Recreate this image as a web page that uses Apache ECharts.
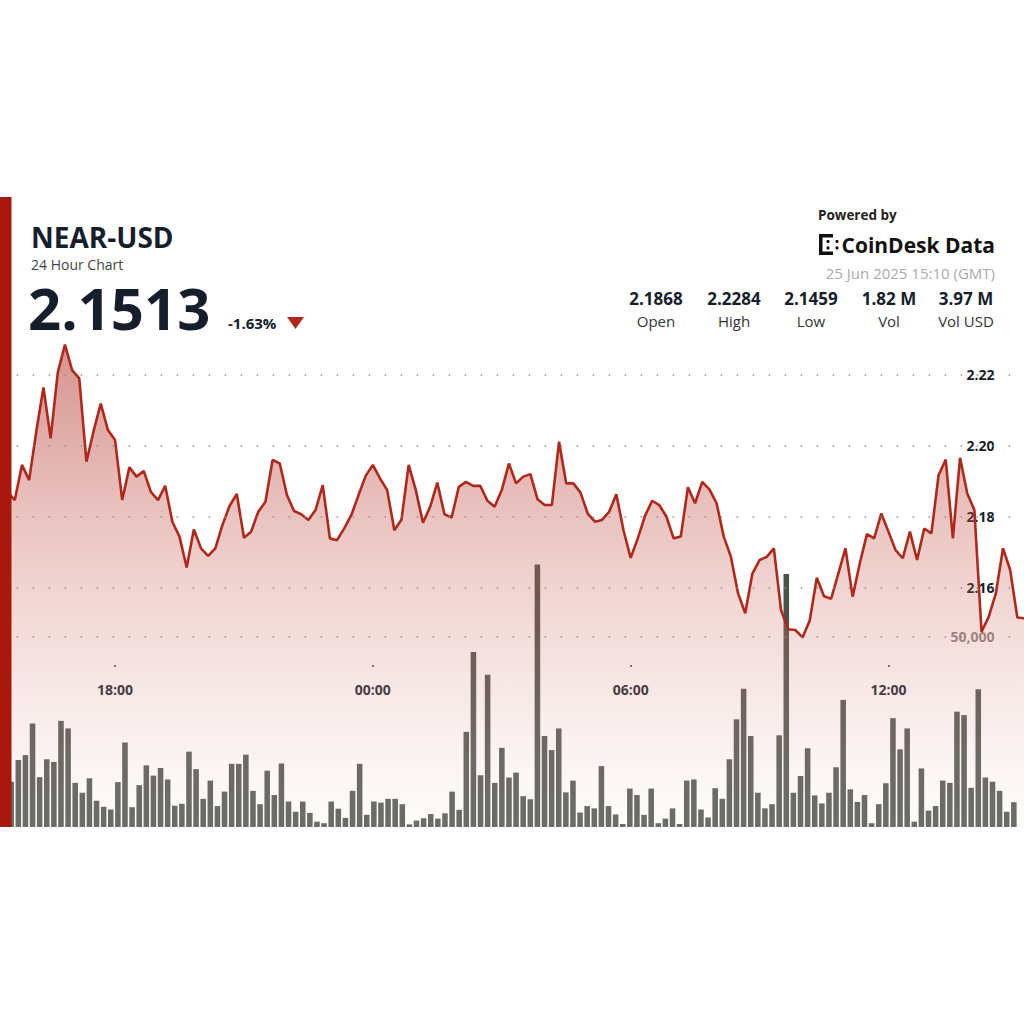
<!DOCTYPE html>
<html>
<head>
<meta charset="utf-8">
<title>NEAR-USD 24 Hour Chart</title>
<script src="https://cdn.jsdelivr.net/npm/echarts@6/dist/echarts.min.js"></script>
<style>
  html, body { margin: 0; padding: 0; background: #fff; }
  #chart { width: 1024px; height: 1024px; }
</style>
</head>
<body>
<div id="chart"></div>
<script>
// 10 minute steps, 24 Jun 15:30 -> 25 Jun 15:10 (GMT)
var times = [
  '15:30','15:40','15:50',
  '16:00','16:10','16:20','16:30','16:40','16:50',
  '17:00','17:10','17:20','17:30','17:40','17:50',
  '18:00','18:10','18:20','18:30','18:40','18:50',
  '19:00','19:10','19:20','19:30','19:40','19:50',
  '20:00','20:10','20:20','20:30','20:40','20:50',
  '21:00','21:10','21:20','21:30','21:40','21:50',
  '22:00','22:10','22:20','22:30','22:40','22:50',
  '23:00','23:10','23:20','23:30','23:40','23:50',
  '00:00','00:10','00:20','00:30','00:40','00:50',
  '01:00','01:10','01:20','01:30','01:40','01:50',
  '02:00','02:10','02:20','02:30','02:40','02:50',
  '03:00','03:10','03:20','03:30','03:40','03:50',
  '04:00','04:10','04:20','04:30','04:40','04:50',
  '05:00','05:10','05:20','05:30','05:40','05:50',
  '06:00','06:10','06:20','06:30','06:40','06:50',
  '07:00','07:10','07:20','07:30','07:40','07:50',
  '08:00','08:10','08:20','08:30','08:40','08:50',
  '09:00','09:10','09:20','09:30','09:40','09:50',
  '10:00','10:10','10:20','10:30','10:40','10:50',
  '11:00','11:10','11:20','11:30','11:40','11:50',
  '12:00','12:10','12:20','12:30','12:40','12:50',
  '13:00','13:10','13:20','13:30','13:40','13:50',
  '14:00','14:10','14:20','14:30','14:40','14:50',
  '15:00','15:10'
];

var prices = [
  2.1868, 2.1846, 2.1945, 2.1902, 2.2039, 2.2163, 2.2020, 2.2205, 2.2284, 2.2212,
  2.2189, 2.1954, 2.2040, 2.2118, 2.2043, 2.2015, 2.1846, 2.1938, 2.1912, 2.1928,
  2.1869, 2.1846, 2.1886, 2.1785, 2.1743, 2.1656, 2.1763, 2.1710, 2.1689, 2.1710,
  2.1776, 2.1830, 2.1863, 2.1740, 2.1757, 2.1813, 2.1841, 2.1959, 2.1949, 2.1860,
  2.1815, 2.1806, 2.1790, 2.1818, 2.1888, 2.1738, 2.1733, 2.1766, 2.1804, 2.1860,
  2.1914, 2.1945, 2.1907, 2.1874, 2.1761, 2.1791, 2.1945, 2.1874, 2.1782, 2.1827,
  2.1895, 2.1806, 2.1797, 2.1883, 2.1897, 2.1886, 2.1886, 2.1844, 2.1827, 2.1874,
  2.1949, 2.1893, 2.1912, 2.1919, 2.1848, 2.1832, 2.1832, 2.2010, 2.1893, 2.1893,
  2.1867, 2.1808, 2.1785, 2.1790, 2.1813, 2.1862, 2.1761, 2.1683, 2.1738, 2.1801,
  2.1844, 2.1832, 2.1799, 2.1738, 2.1743, 2.1882, 2.1837, 2.1897, 2.1876, 2.1837,
  2.1743, 2.1686, 2.1583, 2.1527, 2.1639, 2.1677, 2.1686, 2.1710, 2.1536, 2.1482,
  2.1480, 2.1459, 2.1506, 2.1627, 2.1575, 2.1568, 2.1639, 2.1710, 2.1574, 2.1668,
  2.1750, 2.1738, 2.1808, 2.1757, 2.1705, 2.1682, 2.1757, 2.1677, 2.1766, 2.1752,
  2.1916, 2.1960, 2.1738, 2.1965, 2.1865, 2.1818, 2.1475, 2.1517, 2.1583, 2.1710,
  2.1649, 2.1515, 2.1513
];

var volumes = [
  11900, 17600, 18900, 27200, 13100, 17800, 17100, 27900, 25900, 11600,
  9000, 12800, 6900, 5300, 4600, 11800, 22200, 5200, 11000, 16200,
  13500, 15500, 12500, 5600, 6100, 19800, 15200, 7400, 12200, 5500,
  9300, 16600, 16600, 19000, 9500, 6000, 14800, 8400, 16700, 6700,
  4000, 6700, 3700, 1400, 1000, 6700, 4800, 2400, 9500, 16600,
  3200, 6700, 6400, 7400, 7400, 6000, 700, 1700, 2300, 3400,
  2200, 3600, 9300, 4500, 25000, 46000, 13600, 40000, 11600, 20800,
  13000, 14300, 8100, 7300, 69000, 23900, 20200, 25900, 9100, 12200,
  3800, 5500, 4900, 16000, 5500, 3300, 800, 10100, 8400, 3200,
  10100, 1000, 2200, 4900, 800, 12200, 12500, 4600, 2500, 10200,
  7400, 17800, 28300, 36300, 23900, 9000, 4900, 6000, 24100, 66500,
  9000, 13400, 20700, 8300, 6200, 9000, 15700, 33400, 9900, 6600,
  8400, 1000, 6000, 11500, 28600, 20400, 25900, 1400, 15400, 4300,
  5500, 12200, 11600, 30300, 29400, 10300, 36200, 13000, 11900, 9500,
  4000, 6500, 0
];

var priceTicks = [2.16, 2.18, 2.20, 2.22];
var volumeTicks = [50000];
var timeTicks = ['18:00', '00:00', '06:00', '12:00'];

var statValues = ['2.1868', '2.2284', '2.1459', '1.82 M', '3.97 M'];
var statNames = ['Open', 'High', 'Low', 'Vol', 'Vol USD'];

var FONT = '"Open Sans", "Noto Sans", sans-serif';
var DARK = '#161d2b';

var chart = echarts.init(document.getElementById('chart'), null, { renderer: 'svg' });

function showTime (index, value) {
  return timeTicks.indexOf(value) > -1
}

var dotted = {
  color: '#8e8e8e',
  width: 1.5,
  type: [1.5, 14.5],
  dashOffset: 7
};

// header texts
var statX = [656, 734, 811, 889, 966];
var header = [
  { type: 'rect', shape: { x: 0, y: 197, width: 11.5, height: 630 }, style: { fill: '#a8180e' }, z: 100 },
  { type: 'text', x: 31, y: 237, style: { text: 'NEAR-USD', fontFamily: FONT, fontSize: 28, fontWeight: 'bold', fill: DARK, textVerticalAlign: 'middle' } },
  { type: 'text', x: 31, y: 264, style: { text: '24 Hour Chart', fontFamily: FONT, fontSize: 14, fill: '#444', textVerticalAlign: 'middle' } },
  { type: 'text', x: 28, y: 307, style: { text: '2.1513', fontFamily: FONT, fontSize: 58, fontWeight: 'bold', fill: DARK, textVerticalAlign: 'middle' } },
  { type: 'text', x: 228, y: 323, style: { text: '-1.63%', fontFamily: FONT, fontSize: 15, fontWeight: 'bold', fill: DARK, textVerticalAlign: 'middle' } },
  { type: 'polygon', shape: { points: [[287, 317], [304, 317], [295.5, 329]] }, style: { fill: '#b3271b' } },
  { type: 'text', x: 818, y: 215, style: { text: 'Powered by', fontFamily: FONT, fontSize: 13.5, fontWeight: 'bold', fill: '#222', textVerticalAlign: 'middle' } },
  { type: 'text', x: 995, y: 245, style: { text: 'CoinDesk Data', fontFamily: FONT, fontSize: 21, fontWeight: 'bold', fill: '#111', textAlign: 'right', textVerticalAlign: 'middle' } },
  { type: 'text', x: 995, y: 273, style: { text: '25 Jun 2025 15:10 (GMT)', fontFamily: FONT, fontSize: 15, fill: '#aaa', textAlign: 'right', textVerticalAlign: 'middle' } },
  // logo mark
  { type: 'rect', shape: { x: 819, y: 234, width: 3.5, height: 21 }, style: { fill: '#111' } },
  { type: 'rect', shape: { x: 819, y: 234, width: 14, height: 3.5 }, style: { fill: '#111' } },
  { type: 'rect', shape: { x: 819, y: 251.5, width: 14, height: 3.5 }, style: { fill: '#111' } },
  { type: 'circle', shape: { cx: 828, cy: 241.5, r: 1.6 }, style: { fill: '#111' } },
  { type: 'circle', shape: { cx: 828, cy: 248, r: 1.6 }, style: { fill: '#111' } },
  { type: 'circle', shape: { cx: 837, cy: 241.5, r: 1.6 }, style: { fill: '#111' } },
  { type: 'circle', shape: { cx: 837, cy: 248, r: 1.6 }, style: { fill: '#111' } }
];
statValues.forEach(function (v, i) {
  header.push({ type: 'text', x: statX[i], y: 298, style: { text: v, fontFamily: FONT, fontSize: 17, fontWeight: 'bold', fill: DARK, textAlign: 'center', textVerticalAlign: 'middle' } });
  header.push({ type: 'text', x: statX[i], y: 321, style: { text: statNames[i], fontFamily: FONT, fontSize: 15, fill: '#333', textAlign: 'center', textVerticalAlign: 'middle' } });
});

chart.setOption({
  animation: false,
  backgroundColor: '#fff',
  graphic: header,
  grid: {
    left: 7.65,
    right: -0.5,
    top: 330,
    bottom: 197,
    outerBoundsMode: 'none'
  },
  xAxis: [
    {
      type: 'category',
      data: times,
      boundaryGap: false,
      position: 'bottom',
      offset: -162,
      axisLine: { show: false },
      axisTick: { show: true, length: 2, interval: showTime, lineStyle: { color: '#333', width: 1.5 } },
      axisLabel: { interval: showTime, margin: 17, color: DARK, fontSize: 14, fontWeight: 'bold', fontFamily: FONT },
      splitLine: { show: false }
    },
    {
      type: 'category',
      data: times,
      boundaryGap: true,
      show: false
    }
  ],
  yAxis: [
    {
      type: 'value',
      position: 'right',
      min: 2.0925,
      max: 2.2325,
      axisLine: { show: false },
      axisTick: { show: false },
      splitLine: { show: false },
      axisLabel: {
        inside: true,
        margin: 30,
        customValues: priceTicks,
        formatter: function (v) { return v.toFixed(2) },
        color: DARK,
        fontSize: 14,
        fontWeight: 'bold',
        fontFamily: FONT
      }
    },
    {
      type: 'value',
      position: 'right',
      min: 0,
      max: 130600,
      axisLine: { show: false },
      axisTick: { show: false },
      splitLine: { show: false },
      axisLabel: {
        inside: true,
        margin: 30,
        customValues: volumeTicks,
        formatter: function (v) { return v.toLocaleString('en-US') },
        color: '#8c8583',
        fontSize: 14,
        fontWeight: 'bold',
        fontFamily: FONT
      }
    }
  ],
  series: [
    {
      name: 'Volume',
      type: 'bar',
      xAxisIndex: 1,
      yAxisIndex: 1,
      data: volumes,
      barWidth: '78%',
      itemStyle: { color: '#4c514b' },
      z: 2,
      markLine: {
        silent: true,
        symbol: ['none', 'none'],
        label: { show: false },
        lineStyle: dotted,
        data: volumeTicks.map(function (v) { return { yAxis: v } })
      }
    },
    {
      name: 'NEAR-USD',
      type: 'line',
      xAxisIndex: 0,
      yAxisIndex: 0,
      data: prices,
      symbol: 'none',
      z: 3,
      lineStyle: { color: '#b0281c', width: 2.6 },
      areaStyle: {
        color: new echarts.graphic.LinearGradient(0, 0, 0, 1, [
          { offset: 0, color: 'rgba(172,40,30,0.72)' },
          { offset: 0.55, color: 'rgba(205,110,100,0.38)' },
          { offset: 1, color: 'rgba(250,238,236,0.25)' }
        ])
      },
      markLine: {
        silent: true,
        symbol: ['none', 'none'],
        label: { show: false },
        lineStyle: dotted,
        data: priceTicks.map(function (v) { return { yAxis: v } })
      }
    }
  ]
});
</script>
</body>
</html>
